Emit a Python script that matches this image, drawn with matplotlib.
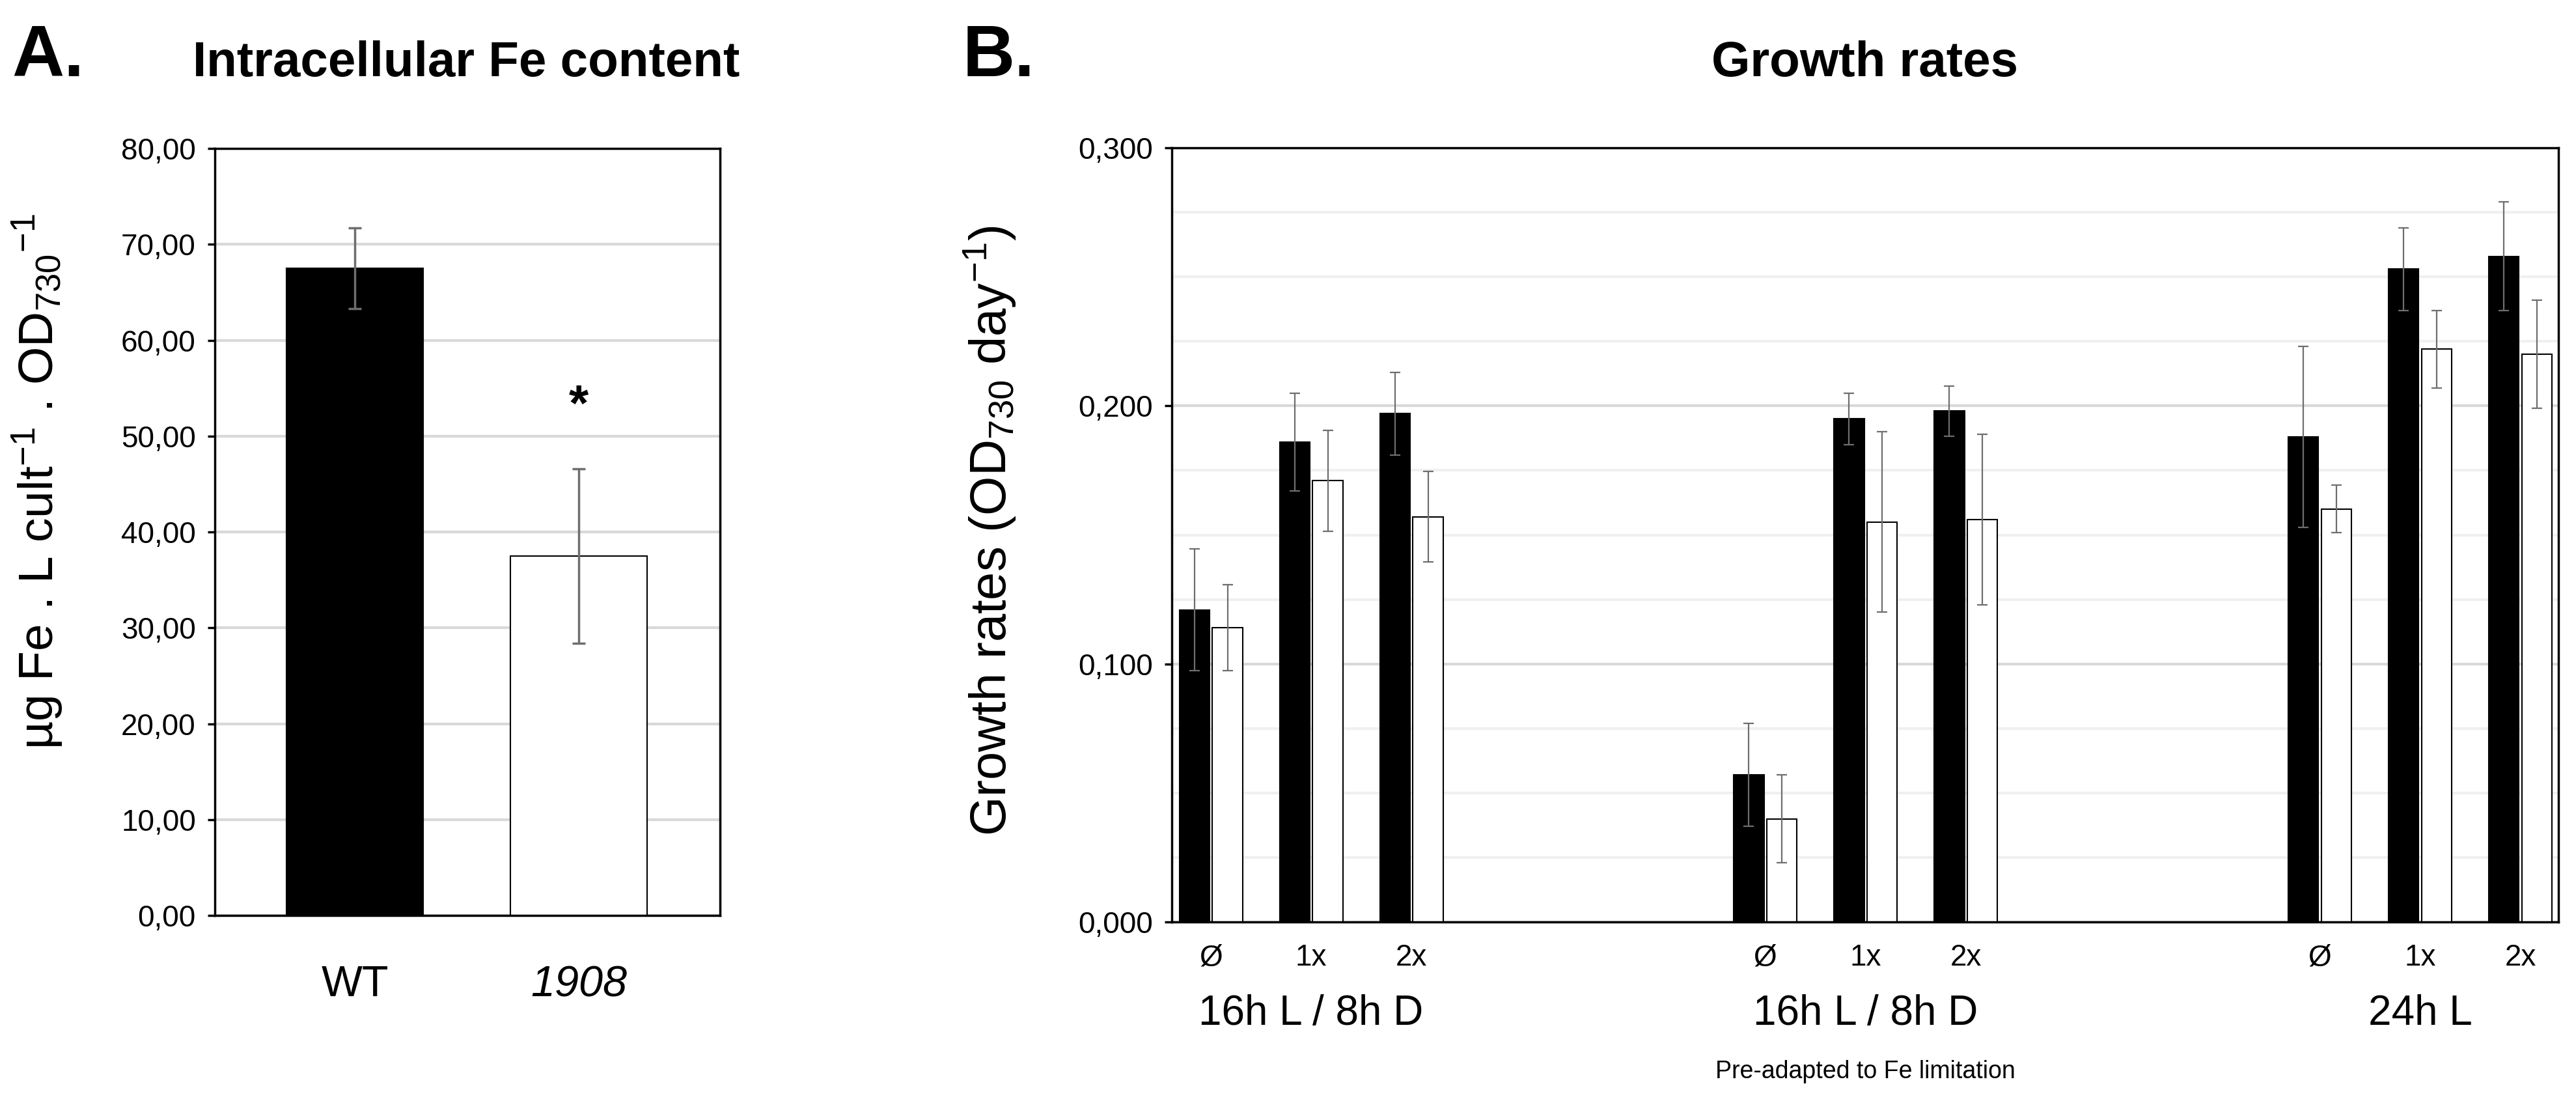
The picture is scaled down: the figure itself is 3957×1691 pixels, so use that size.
import matplotlib
matplotlib.use("Agg")
import matplotlib.pyplot as plt
from matplotlib.ticker import MultipleLocator, FuncFormatter
import numpy as np

plt.rcParams['font.family'] = ['Liberation Sans', 'DejaVu Sans']
plt.rcParams['mathtext.fontset'] = 'custom'
plt.rcParams['mathtext.rm'] = 'Liberation Sans'
plt.rcParams['mathtext.it'] = 'Liberation Sans:italic'
plt.rcParams['mathtext.bf'] = 'Liberation Sans:bold'

# panel A data
fe_labels = ['WT', '1908']
fe_values = [67.5, 37.5]
fe_errors = [4.2, 9.1]

# panel B data
conditions = ['Ø', '1x', '2x']
groups = ['16h L / 8h D', '16h L / 8h D', '24h L']
wt_rates = [0.121, 0.186, 0.197, 0.057, 0.195, 0.198, 0.188, 0.253, 0.258]
wt_err = [0.0235, 0.019, 0.016, 0.020, 0.010, 0.0097, 0.035, 0.016, 0.021]
mut_rates = [0.114, 0.171, 0.157, 0.040, 0.155, 0.156, 0.160, 0.222, 0.220]
mut_err = [0.0167, 0.0195, 0.0175, 0.017, 0.035, 0.033, 0.0092, 0.015, 0.021]

ERR_COL = '#6e6e6e'
SPINE_LW = 2.5

fig = plt.figure(figsize=(39.57, 16.91), dpi=100)

def style_axes(ax):
    for s in ax.spines.values():
        s.set_linewidth(SPINE_LW)
        s.set_color('black')
    ax.tick_params(axis='y', which='major', direction='out', length=8,
                   width=SPINE_LW, labelsize=33, pad=13)
    ax.tick_params(axis='x', which='both', length=0)
    ax.set_axisbelow(True)

# ---------- A ----------
axA = fig.add_axes([0.0834, 0.1685, 0.1961, 0.6966])
xa = np.arange(len(fe_labels))
axA.bar(xa, fe_values, width=0.61, color=['black', 'white'],
        edgecolor='black', linewidth=1.5, zorder=2)
axA.errorbar(xa, fe_values, yerr=fe_errors, fmt='none', ecolor=ERR_COL,
             elinewidth=2.5, capsize=7, capthick=2.5, zorder=3)
axA.set_xlim(-0.625, 1.63)
axA.set_ylim(0, 80)
axA.yaxis.set_major_locator(MultipleLocator(10))
axA.yaxis.set_major_formatter(FuncFormatter(lambda v, p: ('%.2f' % v).replace('.', ',')))
axA.grid(axis='y', color='#d9d9d9', linewidth=3)
style_axes(axA)
axA.set_xticks(xa)
axA.set_xticklabels(fe_labels, fontsize=48)
axA.get_xticklabels()[1].set_style('italic')
axA.tick_params(axis='x', pad=55)
axA.text(1, 53, '*', ha='center', va='center', fontsize=56, fontweight='bold')

fig.text(0.0046, 1 - 117 / 1691, 'A.', fontsize=80, fontweight='bold',
         ha='left', va='baseline')
fig.text(0.181, 1 - 117 / 1691, 'Intracellular Fe content', fontsize=55,
         fontweight='bold', ha='center', va='baseline')
fig.text(0.0147, 0.5624, r'µg Fe . L cult$^{-1}$ . OD$_{730}$$^{-1}$',
         rotation=90, ha='center', va='center', fontsize=54)

# ---------- B ----------
axB = fig.add_axes([0.4549, 0.1626, 0.5383, 0.7031])
group_start = [0.0, 5.53, 11.06]
centers = np.array([g + i for g in group_start for i in range(len(conditions))])
bw = 0.3
off = 0.165
axB.bar(centers - off, wt_rates, width=bw, color='black', edgecolor='black',
        linewidth=1.5, zorder=2)
axB.bar(centers + off, mut_rates, width=bw, color='white', edgecolor='black',
        linewidth=1.5, zorder=2)
axB.errorbar(centers - off, wt_rates, yerr=wt_err, fmt='none', ecolor=ERR_COL,
             elinewidth=1.6, capsize=6, capthick=1.6, zorder=3)
axB.errorbar(centers + off, mut_rates, yerr=mut_err, fmt='none', ecolor=ERR_COL,
             elinewidth=1.6, capsize=6, capthick=1.6, zorder=3)
axB.set_xlim(-0.39, 13.44)
axB.set_ylim(0, 0.3)
axB.yaxis.set_major_locator(MultipleLocator(0.1))
axB.yaxis.set_minor_locator(MultipleLocator(0.025))
axB.yaxis.set_major_formatter(FuncFormatter(lambda v, p: ('%.3f' % v).replace('.', ',')))
axB.grid(axis='y', which='minor', color='#f0f0f0', linewidth=3)
axB.grid(axis='y', which='major', color='#d9d9d9', linewidth=3)
style_axes(axB)
axB.tick_params(axis='y', which='minor', length=0)
axB.set_xticks(centers)
axB.set_xticklabels(conditions * len(groups), fontsize=33)
axB.tick_params(axis='x', pad=24)

trans = axB.get_xaxis_transform()
for g, name in zip(group_start, groups):
    axB.text(g + 1, -0.1186, name, transform=trans, ha='center', va='center',
             fontsize=46)
axB.text(group_start[1] + 1, -0.1934, 'Pre-adapted to Fe limitation',
         transform=trans, ha='center', va='center', fontsize=27)

fig.text(1479 / 3957, 1 - 117 / 1691, 'B.', fontsize=80, fontweight='bold',
         ha='left', va='baseline')
fig.text(0.724, 1 - 117 / 1691, 'Growth rates', fontsize=55,
         fontweight='bold', ha='center', va='baseline')
fig.text(0.3844, 0.518, r'Growth rates (OD$_{730}$ day$^{-1}$)',
         rotation=90, ha='center', va='center', fontsize=56)

fig.savefig('out.png', dpi=100, facecolor='white')
